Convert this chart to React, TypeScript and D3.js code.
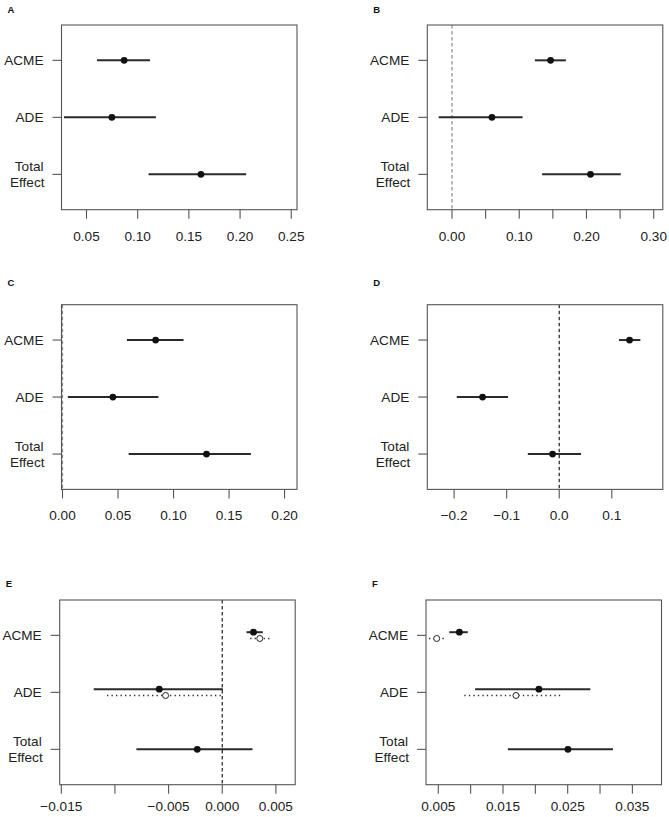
import React from "react";
import * as d3 from "d3";

const categories = ["ACME", "ADE", "Total Effect"];
const panelNames = ["A", "B", "C", "D", "E", "F"];

// Panel A
const estA = [0.0868, 0.0748, 0.1618];
const lowA = [0.0602, 0.028, 0.1106];
const upA = [0.112, 0.1178, 0.206];
// Panel B
const estB = [0.1466, 0.0594, 0.206];
const lowB = [0.1233, -0.0198, 0.134];
const upB = [0.1694, 0.105, 0.251];
// Panel C
const estC = [0.0839, 0.0454, 0.1297];
const lowC = [0.058, 0.0048, 0.0596];
const upC = [0.109, 0.0864, 0.1697];
// Panel D
const estD = [0.1338, -0.1459, -0.0127];
const lowD = [0.1136, -0.195, -0.0598];
const upD = [0.1543, -0.0975, 0.0415];
// Panel E (solid: treated, dotted: control)
const estE = [0.00291, -0.00587, -0.00233];
const lowE = [0.00226, -0.01198, -0.008];
const upE = [0.00378, 0.00006, 0.00282];
const estE2 = [0.0035, -0.00528];
const lowE2 = [0.0026, -0.01074];
const upE2 = [0.0047, 0.0];
// Panel F
const estF = [0.00826, 0.02055, 0.02504];
const lowF = [0.0067, 0.01069, 0.01575];
const upF = [0.00955, 0.0285, 0.032];
const estF2 = [0.00475, 0.017];
const lowF2 = [0.00356, 0.00903];
const upF2 = [0.0063, 0.0242];

// Axis domains and ticks
const domA = [0.0256, 0.2556];
const ticksA = [0.05, 0.1, 0.15, 0.2, 0.25];
const labelsA = ["0.05", "0.10", "0.15", "0.20", "0.25"];
const domB = [-0.0367, 0.3135];
const ticksB = [0, 0.05, 0.1, 0.15, 0.2, 0.25, 0.3];
const labelsB = ["0.00", "", "0.10", "", "0.20", "", "0.30"];
const domC = [-0.0009, 0.2112];
const ticksC = [0, 0.05, 0.1, 0.15, 0.2];
const labelsC = ["0.00", "0.05", "0.10", "0.15", "0.20"];
const domD = [-0.251, 0.197];
const ticksD = [-0.2, -0.1, 0, 0.1];
const labelsD = ["\u22120.2", "\u22120.1", "0.0", "0.1"];
const domE = [-0.01515, 0.0068];
const ticksE = [-0.015, -0.01, -0.005, 0, 0.005];
const labelsE = ["\u22120.015", "", "\u22120.005", "0.000", "0.005"];
const domF = [0.0031, 0.0395];
const ticksF = [0.005, 0.01, 0.015, 0.02, 0.025, 0.03, 0.035];
const labelsF = ["0.005", "", "0.015", "", "0.025", "", "0.035"];

type Panel = {
  name: string;
  left: number;
  top: number;
  labelY: number;
  tickLabelGap: number;
  dom: number[];
  ticks: number[];
  labels: string[];
  est: number[];
  low: number[];
  up: number[];
  est2?: number[];
  low2?: number[];
  up2?: number[];
  zero?: string | null;
};

const W = 235.5;
const H = 184.7;
const FONT = "'Liberation Sans', Arial, Helvetica, sans-serif";
const FS = 13.6;

const panels: Panel[] = [
  { name: panelNames[0], left: 61.5, top: 25, labelY: 13, tickLabelGap: 31, dom: domA, ticks: ticksA, labels: labelsA, est: estA, low: lowA, up: upA, zero: null },
  { name: panelNames[1], left: 427.3, top: 25, labelY: 13, tickLabelGap: 31, dom: domB, ticks: ticksB, labels: labelsB, est: estB, low: lowB, up: upB, zero: "#8a8a8a" },
  { name: panelNames[2], left: 61.5, top: 304.7, labelY: 286, tickLabelGap: 31, dom: domC, ticks: ticksC, labels: labelsC, est: estC, low: lowC, up: upC, zero: "#8a8a8a" },
  { name: panelNames[3], left: 427.3, top: 304.7, labelY: 286, tickLabelGap: 31, dom: domD, ticks: ticksD, labels: labelsD, est: estD, low: lowD, up: upD, zero: "#222" },
  { name: panelNames[4], left: 59.7, top: 600, labelY: 587, tickLabelGap: 26, dom: domE, ticks: ticksE, labels: labelsE, est: estE, low: lowE, up: upE, est2: estE2, low2: lowE2, up2: upE2, zero: "#222" },
  { name: panelNames[5], left: 426, top: 600, labelY: 587, tickLabelGap: 26, dom: domF, ticks: ticksF, labels: labelsF, est: estF, low: lowF, up: upF, est2: estF2, low2: lowF2, up2: upF2, zero: null },
];

function PanelView({ p }: { p: Panel }) {
  const x = d3.scaleLinear().domain(p.dom).range([p.left, p.left + W]);
  const y = d3.scaleLinear().domain([3.62, 0.38]).range([p.top, p.top + H]);
  const catPos = [3, 2, 1];
  const two = !!p.est2;
  const off = two ? 0.055 : 0;
  const bottom = p.top + H;
  const lineCol = "#2a2a2a";
  const axisCol = "#555";
  return (
    <g>
      <text x={p.left - 54} y={p.labelY} fontFamily={FONT} fontWeight="bold" fontSize={9.5} fill="#111">
        {p.name}
      </text>
      {p.zero ? (
        <line x1={x(0)} x2={x(0)} y1={p.top} y2={bottom} stroke={p.zero} strokeWidth={1.2} strokeDasharray="3.5,2.5" />
      ) : null}
      <rect x={p.left} y={p.top} width={W} height={H} fill="none" stroke={axisCol} strokeWidth={1.1} />
      {categories.map((c, i) => {
        const yy = y(catPos[i]);
        return (
          <g key={c}>
            <line x1={p.left - 9} x2={p.left} y1={yy} y2={yy} stroke={axisCol} strokeWidth={1.1} />
            {c === "Total Effect" ? (
              <text textAnchor="end" fontFamily={FONT} fontSize={FS} fill="#222">
                <tspan x={p.left - 18} y={yy - 8.3 + 4.8}>Total</tspan>
                <tspan x={p.left - 17} y={yy + 8.3 + 4.8}>Effect</tspan>
              </text>
            ) : (
              <text x={p.left - 18} y={yy + 4.8} textAnchor="end" fontFamily={FONT} fontSize={FS} fill="#222">
                {c}
              </text>
            )}
          </g>
        );
      })}
      {p.ticks.map((t, i) => (
        <g key={"t" + i}>
          <line x1={x(t)} x2={x(t)} y1={bottom} y2={bottom + 9} stroke={axisCol} strokeWidth={1.1} />
          {p.labels[i] ? (
            <text x={x(t)} y={bottom + p.tickLabelGap} textAnchor="middle" fontFamily={FONT} fontSize={FS} fill="#222">
              {p.labels[i]}
            </text>
          ) : null}
        </g>
      ))}
      {p.est.map((e, i) => {
        const yy = y(catPos[i] + (two && i < 2 ? off : 0));
        return (
          <g key={"s" + i}>
            <line x1={x(p.low[i])} x2={x(p.up[i])} y1={yy} y2={yy} stroke={lineCol} strokeWidth={2} />
            <circle cx={x(e)} cy={yy} r={3.4} fill="#111" />
          </g>
        );
      })}
      {two
        ? p.est2!.map((e, i) => {
            const yy = y(catPos[i] - off);
            return (
              <g key={"d" + i}>
                <line x1={x(p.low2![i])} x2={x(p.up2![i])} y1={yy} y2={yy} stroke={lineCol} strokeWidth={1.3} strokeDasharray="1.3,3.2" />
                <circle cx={x(e)} cy={yy} r={3} fill="white" stroke="#222" strokeWidth={1} />
              </g>
            );
          })
        : null}
    </g>
  );
}

export default function App() {
  return (
    <svg
      width={669}
      height={817}
      viewBox="0 0 669 817"
      style={{ position: "absolute", left: 0, top: 0, background: "white" }}
    >
      <rect x={0} y={0} width={669} height={817} fill="white" />
      {panels.map((p) => (
        <PanelView key={p.name} p={p} />
      ))}
    </svg>
  );
}
